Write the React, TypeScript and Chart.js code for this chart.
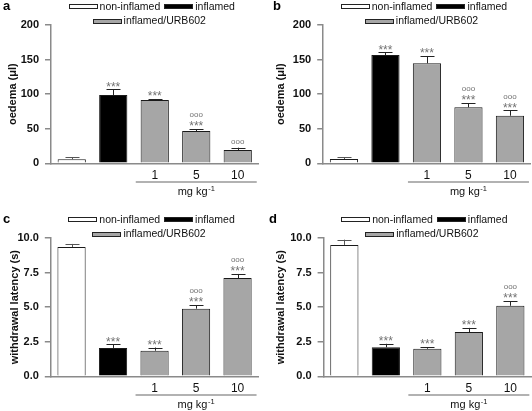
import React, { useEffect, useRef } from 'react';
import { Chart, registerables } from 'chart.js';

Chart.register(...registerables);

// ---------- data ----------
const categories = ['', '', '1', '5', '10'];
const groupNames = ['non-inflamed', 'inflamed', 'inflamed/URB602'];
const doseUnit = 'mg kg';
const doseUnitExp = '-1';

const oedemaTicks = [0, 50, 100, 150, 200];
const latencyTicks = [0, 2.5, 5, 7.5, 10];

// panel a: oedema, first time point
const oedemaA = [5.8, 98.8, 91.5, 46.7, 19.2];
const oedemaASem = [2.9, 8.2, 1.5, 2.9, 3.4];
const starsA = ['', '***', '***', '***', ''];
const circlesA = ['', '', '', 'ooo', 'ooo'];

// panel b: oedema, second time point
const oedemaB = [6.2, 156.6, 144.6, 81.0, 68.8];
const oedemaBSem = [2.5, 3.9, 10.6, 6.2, 7.8];
const starsB = ['', '***', '***', '***', '***'];
const circlesB = ['', '', '', 'ooo', 'ooo'];

// panel c: withdrawal latency, first time point
const latencyC = [9.35, 2.05, 1.85, 4.89, 7.1];
const latencyCSem = [0.22, 0.25, 0.23, 0.26, 0.3];
const starsC = ['', '***', '***', '***', '***'];
const circlesC = ['', '', '', 'ooo', 'ooo'];

// panel d: withdrawal latency, second time point
const latencyD = [9.5, 2.1, 1.99, 3.2, 5.1];
const latencyDSem = [0.38, 0.25, 0.12, 0.3, 0.34];
const starsD = ['', '***', '***', '***', '***'];
const circlesD = ['', '', '', '', 'ooo'];

// ---------- styles ----------
const FONT = '"Liberation Sans", Arial, Helvetica, sans-serif';
const WHITE = '#ffffff';
const BLACK = '#000000';
const GREY = '#a6a6a6';
const barColors = [WHITE, BLACK, GREY, GREY, GREY];
const legendColors = [WHITE, BLACK, GREY];
const AXIS = '#8a8a8a';
const ANNOT = '#727272';

const W = 266;
const H = 198;
const PLOT_W = 207.5;
const PLOT_TOP = 25;
const X_AXIS_H = 34.7;

type Panel = {
  letter: string;
  letterX: number;
  x: number;
  y: number;
  padLeft: number;
  plotLeft: number;
  yTitle: string;
  yMax: number;
  yTicks: number[];
  decimals: number;
  means: number[];
  sems: number[];
  stars: string[];
  circles: string[];
};

const panels: Panel[] = [
  { letter: 'a', letterX: 3, x: 0, y: 0, padLeft: 6.4, plotLeft: 51, yTitle: 'oedema (μl)', yMax: 200, yTicks: oedemaTicks, decimals: 0, means: oedemaA, sems: oedemaASem, stars: starsA, circles: circlesA },
  { letter: 'b', letterX: 7, x: 266, y: 0, padLeft: 8.4, plotLeft: 57.2, yTitle: 'oedema (μl)', yMax: 200, yTicks: oedemaTicks, decimals: 0, means: oedemaB, sems: oedemaBSem, stars: starsB, circles: circlesB },
  { letter: 'c', letterX: 3, x: 0, y: 213, padLeft: 7.9, plotLeft: 50.8, yTitle: 'withdrawal latency (s)', yMax: 10, yTicks: latencyTicks, decimals: 1, means: latencyC, sems: latencyCSem, stars: starsC, circles: circlesC },
  { letter: 'd', letterX: 3, x: 266, y: 213, padLeft: 8.1, plotLeft: 57.6, yTitle: 'withdrawal latency (s)', yMax: 10, yTicks: latencyTicks, decimals: 1, means: latencyD, sems: latencyDSem, stars: starsD, circles: circlesD },
];

function fillCentered(ctx: CanvasRenderingContext2D, text: string, x: number, cy: number) {
  const m = ctx.measureText(text);
  const asc = m.actualBoundingBoxAscent;
  const desc = m.actualBoundingBoxDescent;
  ctx.textBaseline = 'alphabetic';
  ctx.fillText(text, x, cy + (asc - desc) / 2);
}

function makeOverlay(p: Panel) {
  return {
    id: 'overlay' + p.letter,
    afterDatasetsDraw(chart: any) {
      const ctx: CanvasRenderingContext2D = chart.ctx;
      const yScale = chart.scales.y;
      const meta = chart.getDatasetMeta(0);
      ctx.save();
      meta.data.forEach((el: any, i: number) => {
        const top = yScale.getPixelForValue(p.means[i]);
        const errY = yScale.getPixelForValue(p.means[i] + p.sems[i]);
        const x = Math.round(el.x) + 0.5;
        ctx.strokeStyle = i === 0 ? '#555' : '#222';
        ctx.lineWidth = 1;
        ctx.beginPath();
        ctx.moveTo(x, top);
        ctx.lineTo(x, errY);
        ctx.moveTo(x - 7, Math.round(errY) + 0.5);
        ctx.lineTo(x + 7, Math.round(errY) + 0.5);
        ctx.stroke();

        ctx.fillStyle = ANNOT;
        ctx.textAlign = 'center';
        let next = errY - 5.3;
        if (p.stars[i]) {
          ctx.font = `12px ${FONT}`;
          fillCentered(ctx, p.stars[i], el.x, next);
          next -= 8.5;
        }
        if (p.circles[i]) {
          ctx.font = `8px ${FONT}`;
          fillCentered(ctx, p.circles[i], el.x, next);
        }
      });
      ctx.restore();
    },
    afterDraw(chart: any) {
      const ctx: CanvasRenderingContext2D = chart.ctx;
      const ca = chart.chartArea;
      const xScale = chart.scales.x;
      ctx.save();

      // panel letter
      ctx.fillStyle = '#000';
      ctx.font = `bold 13px ${FONT}`;
      ctx.textAlign = 'left';
      ctx.textBaseline = 'alphabetic';
      ctx.fillText(p.letter, p.letterX, 10);

      // legend
      ctx.font = `10.5px ${FONT}`;
      const bw = 28;
      const bh = 4;
      const gapBT = 3;
      const gapTB = 4;
      const w0 = ctx.measureText(groupNames[0]).width;
      const w1 = ctx.measureText(groupNames[1]).width;
      const w2 = ctx.measureText(groupNames[2]).width;
      const cx = (ca.left + ca.right) / 2 - 3;
      const drawItem = (x: number, cy: number, color: string, label: string) => {
        const bx = Math.round(x) + 0.5;
        const by = Math.round(cy - bh / 2) + 0.5;
        ctx.fillStyle = color;
        ctx.fillRect(bx, by, bw, bh);
        ctx.strokeStyle = '#222';
        ctx.lineWidth = 1;
        ctx.strokeRect(bx, by, bw, bh);
        ctx.fillStyle = '#111';
        ctx.textAlign = 'left';
        ctx.textBaseline = 'middle';
        ctx.fillText(label, x + bw + gapBT, cy + 1);
        return x + bw + gapBT + ctx.measureText(label).width + gapTB;
      };
      const row1 = bw + gapBT + w0 + gapTB + bw + gapBT + w1;
      let lx = cx - row1 / 2;
      lx = drawItem(lx, 6, legendColors[0], groupNames[0]);
      drawItem(lx, 6, legendColors[1], groupNames[1]);
      const row2 = bw + gapBT + w2;
      drawItem(cx - 2.5 - row2 / 2, 20.5, legendColors[2], groupNames[2]);

      // dose line and unit
      const c2 = xScale.getPixelForValue(2);
      const c4 = xScale.getPixelForValue(4);
      ctx.strokeStyle = '#999';
      ctx.lineWidth = 1.6;
      ctx.beginPath();
      ctx.moveTo(c2 - 19, 182);
      ctx.lineTo(c4 + 19, 182);
      ctx.stroke();

      ctx.fillStyle = '#111';
      ctx.textAlign = 'left';
      ctx.textBaseline = 'alphabetic';
      ctx.font = `11px ${FONT}`;
      const mw = ctx.measureText(doseUnit).width;
      ctx.font = `7.5px ${FONT}`;
      const sw = ctx.measureText(doseUnitExp).width;
      const mid = (c2 + c4) / 2;
      const start = mid - (mw + sw + 0.5) / 2;
      ctx.font = `11px ${FONT}`;
      ctx.fillText(doseUnit, start, 195);
      ctx.font = `7.5px ${FONT}`;
      ctx.fillText(doseUnitExp, start + mw + 0.5, 191);
      ctx.restore();
    },
  };
}

function PanelChart({ p }: { p: Panel }) {
  const ref = useRef<HTMLCanvasElement | null>(null);
  useEffect(() => {
    if (!ref.current) return;
    const right = W - (p.plotLeft + PLOT_W);
    const chart = new Chart(ref.current, {
      type: 'bar',
      data: {
        labels: categories,
        datasets: [
          {
            data: p.means,
            backgroundColor: barColors,
            borderColor: '#1a1a1a',
            borderWidth: 1,
            categoryPercentage: 1,
            barPercentage: 0.68,
          },
        ],
      },
      options: {
        responsive: false,
        maintainAspectRatio: false,
        animation: false,
        events: [],
        layout: { padding: { left: p.padLeft, right, top: PLOT_TOP, bottom: 0 } },
        plugins: { legend: { display: false }, tooltip: { enabled: false }, title: { display: false } },
        scales: {
          x: {
            offset: true,
            grid: { display: true, drawOnChartArea: false, drawTicks: false },
            border: { display: true, color: AXIS, width: 1.5 },
            ticks: { color: '#111', font: { family: FONT, size: 12 }, padding: 5, maxRotation: 0, autoSkip: false },
            afterFit: (s: any) => {
              s.height = X_AXIS_H;
            },
          },
          y: {
            min: 0,
            max: p.yMax,
            afterBuildTicks: (s: any) => {
              s.ticks = p.yTicks.map((v) => ({ value: v }));
            },
            ticks: {
              color: '#111',
              font: { family: FONT, size: 11, weight: 'bold' },
              padding: 6,
              callback: (v: any) => Number(v).toFixed(p.decimals),
            },
            grid: { drawOnChartArea: false, drawTicks: true, tickLength: 6, color: AXIS, lineWidth: 1.5 },
            border: { display: true, color: AXIS, width: 1.5 },
            title: {
              display: true,
              text: p.yTitle,
              color: '#111',
              font: { family: FONT, size: 11, weight: 'bold' },
              padding: 0,
            },
            afterFit: (s: any) => {
              s.width = p.plotLeft - p.padLeft;
            },
          },
        },
      } as any,
      plugins: [makeOverlay(p)],
    });
    return () => chart.destroy();
  }, [p]);
  return (
    <canvas
      ref={ref}
      width={W}
      height={H}
      style={{ position: 'absolute', left: p.x, top: p.y, width: W, height: H }}
    />
  );
}

export default function App() {
  return (
    <div style={{ position: 'absolute', left: 0, top: 0, width: 532, height: 411, background: '#fff' }}>
      {panels.map((p) => (
        <PanelChart key={p.letter} p={p} />
      ))}
    </div>
  );
}
